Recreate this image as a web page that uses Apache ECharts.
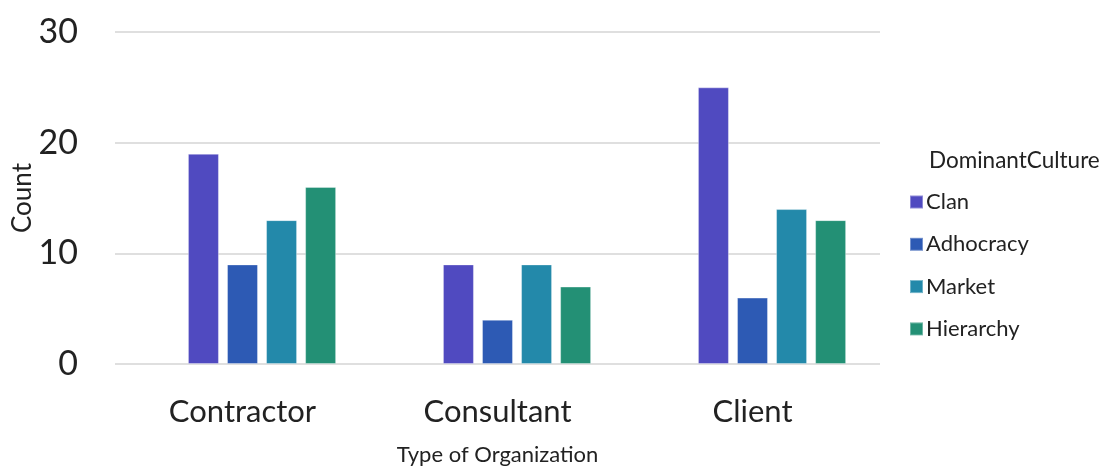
<!DOCTYPE html>
<html><head><meta charset="utf-8">
<script src="https://cdn.jsdelivr.net/npm/echarts@6/dist/echarts.min.js"></script>
<style>html,body{margin:0;padding:0;background:#fff}#c{width:1107px;height:468px}</style>
</head><body><div id="c"></div>
<script>
const categories = ['Contractor', 'Consultant', 'Client'];
const seriesNames = ['Clan', 'Adhocracy', 'Market', 'Hierarchy'];
const clan = [19, 9, 25];
const adhocracy = [9, 4, 6];
const market = [13, 9, 14];
const hierarchy = [16, 7, 13];
const emptySlot = [null, null, null];
const colors = ['#504ac0', '#2d5ab4', '#2389aa', '#239075'];
const values = [clan, adhocracy, market, hierarchy];
const FONT = 'Lato';
const chart = echarts.init(document.getElementById('c'));
const barSeries = [{ name: '_empty', type: 'bar', data: emptySlot, barWidth: 31, barGap: '26%', silent: true }]
  .concat(seriesNames.map((n, i) => ({
    name: n, type: 'bar', data: values[i], barWidth: 31, barGap: '26%',
    itemStyle: { color: colors[i], borderColor: 'rgba(255,255,255,0.35)', borderWidth: 1 }
  })));
chart.setOption({
  animation: false,
  textStyle: { fontFamily: FONT, color: '#222' },
  grid: { left: 115, right: 227, top: 32, bottom: 104, containLabel: false, outerBoundsMode: 'none' },
  title: { text: 'DominantCulture', left: 924, top: 144, textStyle: { fontFamily: FONT, fontSize: 22.5, fontWeight: 'normal', color: '#222' } },
  legend: {
    orient: 'vertical', left: 904, top: 186, itemWidth: 13, itemHeight: 13, itemGap: 20.3,
    icon: 'rect', textStyle: { fontFamily: FONT, fontSize: 22, color: '#222', padding: [0, 0, 0, -2] },
    data: seriesNames
  },
  xAxis: {
    type: 'category', data: categories,
    name: 'Type of Organization', nameLocation: 'middle', nameGap: 80, nameMoveOverlap: false,
    nameTextStyle: { fontFamily: FONT, fontSize: 22, color: '#222' },
    axisLine: { show: false }, axisTick: { show: false },
    axisLabel: { fontFamily: FONT, fontSize: 31, color: '#222', margin: 32 }
  },
  yAxis: {
    type: 'value', min: 0, max: 30, interval: 10,
    name: 'Count', nameLocation: 'middle', nameGap: 79, nameRotate: 90, nameMoveOverlap: false,
    nameTextStyle: { fontFamily: FONT, fontSize: 26, color: '#222' },
    axisLine: { show: false }, axisTick: { show: false },
    axisLabel: { fontFamily: FONT, fontSize: 34, color: '#222', margin: 37 },
    splitLine: { lineStyle: { color: '#d4d4d4', width: 1.5 } }
  },
  series: barSeries
});
</script></body></html>
